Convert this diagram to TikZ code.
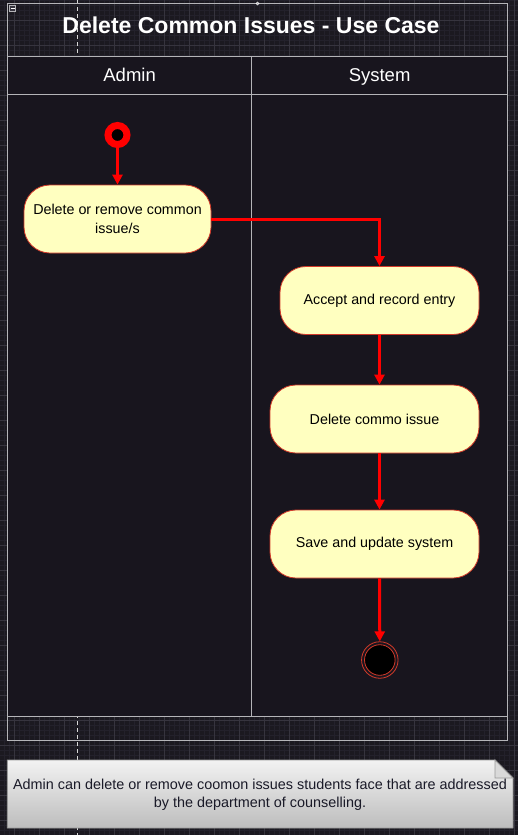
\documentclass[tikz,border=0pt]{standalone}
\usepackage{fontspec}
\setmainfont{Liberation Sans}
\usetikzlibrary{arrows.meta}
\definecolor{bgc}{HTML}{1B1920}
\definecolor{lanec}{HTML}{18151E}
\definecolor{gridminor}{HTML}{23212B}
\definecolor{gridmajor}{HTML}{36343E}
\definecolor{framec}{HTML}{B4B4B8}
\definecolor{actfill}{HTML}{FFFFC0}
\definecolor{actline}{HTML}{D23A2A}
\definecolor{flowc}{HTML}{FF0000}
\definecolor{notetext}{HTML}{1A1A28}
\begin{document}
\begin{tikzpicture}[x=1pt,y=-1pt,
  action/.style={draw=actline, line width=0.8pt, fill=actfill, rounded corners=26pt,
    inner sep=0pt, align=center, font=\fontsize{14.3}{18.5}\selectfont, text=black},
  flow/.style={draw=flowc, line width=3pt, -{Triangle[length=10pt,width=10pt]}},
  lanehead/.style={font=\fontsize{18.5}{22}\selectfont, text=white, anchor=base},
  laneline/.style={draw=framec, line width=0.9pt}
]
\useasboundingbox (0,0) rectangle (518,835);
\fill[bgc] (0,0) rectangle (518,835);
% grid
\foreach \i in {0,...,103} {\draw[gridminor, line width=0.5pt] (4+5*\i,0) -- (4+5*\i,835);}
\foreach \i in {0,...,167} {\draw[gridminor, line width=0.5pt] (0,0.7+5*\i) -- (518,0.7+5*\i);}
\foreach \i in {0,...,20} {\draw[gridmajor, line width=0.6pt] (14+25*\i,0) -- (14+25*\i,835);}
\foreach \i in {0,...,33} {\draw[gridmajor, line width=0.6pt] (0,20.7+25*\i) -- (518,20.7+25*\i);}
% dashed guide
\draw[white!85!black, line width=0.9pt, dash pattern=on 4pt off 3pt] (77,0) -- (77,835);
% outer frame
\draw[framec, line width=0.9pt] (7.5,3.5) rectangle (507.5,740);
\node[draw=framec, fill=gridmajor, line width=0.6pt, minimum size=6pt, inner sep=0pt] (collapse) at (12.7,8.3) {};
\draw[white, line width=0.8pt] ([xshift=-2pt]collapse.center) -- ([xshift=2pt]collapse.center);
\node[draw=white, line width=0.6pt, circle, minimum size=3pt, inner sep=0pt] (handle) at (257.5,3.5) {};
\node[font=\bfseries\fontsize{23}{27}\selectfont, text=white, anchor=base] (title) at (251,33) {Delete Common Issues - Use Case};
% lanes
\fill[lanec] (7.5,56.7) rectangle (507.5,716);
\draw[laneline] (7.5,56.7) rectangle (507.5,716);
\draw[laneline] (7.5,94.3) -- (507.5,94.3);
\draw[laneline] (251.7,56.7) -- (251.7,716);
\node[lanehead] (admin) at (129.6,81.7) {Admin};
\node[lanehead] (system) at (379.6,81.7) {System};
% start
\node[circle, draw=flowc, line width=7pt, fill=black, minimum size=19pt, inner sep=0pt] (start) at (117.5,135) {};
% actions
\node[action, minimum width=187pt, minimum height=68pt] (a1) at (117.5,219) {Delete or remove common\\issue/s};
\node[action, minimum width=199pt, minimum height=68pt] (a2) at (379.5,300.5) {Accept and record entry};
\node[action, minimum width=209pt, minimum height=68pt] (a3) at (374.5,419) {Delete commo issue};
\node[action, minimum width=209pt, minimum height=68pt] (a4) at (374.5,544) {Save and update system};
% end
\node[circle, draw=actline, line width=0.8pt, minimum size=36.5pt, inner sep=0pt] (endn) at (379.8,660) {};
\fill[black, draw=actline, line width=0.8pt] (endn.center) circle (15.3pt);
% flows
\draw[flow] (start) -- (start |- a1.north);
\draw[flow] (a1.east) -| (a2.north);
\draw[flow] (a2.south) -- (a2.south |- a3.north);
\draw[flow] (a2.south |- a3.south) -- (a2.south |- a4.north);
\draw[flow] (a2.south |- a4.south) -- (endn.north);
% note
\shade[top color=white!95!black, bottom color=white!74!black]
  (7.3,760) -- (495,760) -- (513,778) -- (513,828) -- (7.3,828) -- cycle;
\draw[white!60!black, line width=0.8pt]
  (7.3,760) -- (495,760) -- (513,778) -- (513,828) -- (7.3,828) -- cycle;
\filldraw[fill=white!85!black, draw=white!60!black, line width=0.8pt] (495,760) -- (495,778) -- (513,778) -- cycle;
\node[align=center, font=\fontsize{14.4}{18}\selectfont, text=notetext] (note) at (260,794.5)
  {Admin can delete or remove coomon issues students face that are addressed\\by the department of counselling.};
\end{tikzpicture}
\end{document}
